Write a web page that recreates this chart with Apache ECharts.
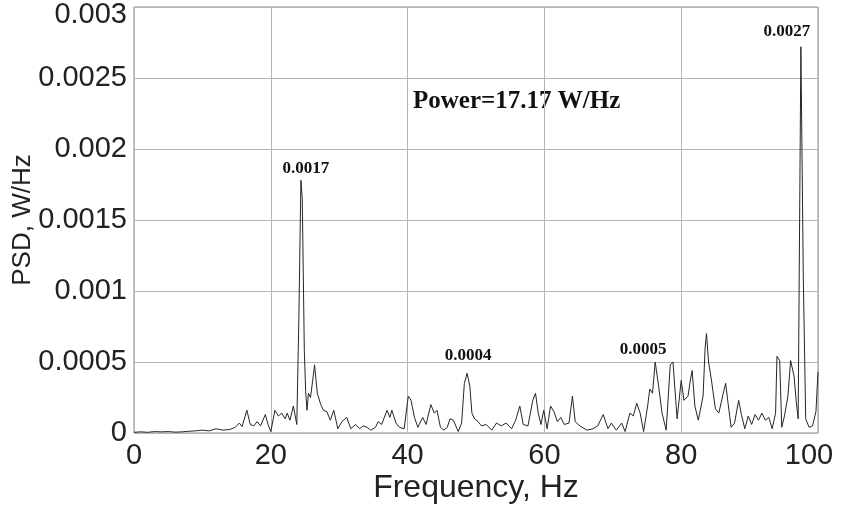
<!DOCTYPE html>
<html>
<head>
<meta charset="utf-8">
<script src="https://cdn.jsdelivr.net/npm/echarts@6/dist/echarts.min.js"></script>
<style>html,body{margin:0;padding:0;background:#fff}#c{width:843px;height:506px}</style>
</head>
<body>
<div id="c"></div>
<script>
var freqHz = [0,1,2,3,4,5,6,7,8,9,10,11,12,13,14,14.8,15.4,15.8,16.5,17,17.5,18,18.5,19.2,19.6,20,20.6,21.1,21.6,22.1,22.4,22.8,23.3,23.8,24.1,24.4,24.6,24.9,25.1,25.3,25.5,25.8,26.1,26.4,26.8,27.3,27.7,28.2,28.7,29.2,29.8,30.4,31.1,31.7,32.4,33,33.5,34.1,34.6,35.3,35.7,36.2,37,37.4,37.7,38.3,38.8,39.5,40.1,40.5,41,41.5,42.2,42.7,43.4,43.9,44.3,44.8,45.3,45.8,46.2,46.7,47.4,47.9,48.3,48.7,49.1,49.4,49.8,50.3,50.8,51.5,52.3,53,53.7,54.4,55.2,55.8,56.4,56.9,57.6,58.3,58.7,59.1,59.5,59.9,60.4,60.9,61.4,61.9,62.4,62.9,63.6,64.1,64.5,65.2,66.2,67.1,67.8,68.6,69.3,69.8,70.5,71.3,71.8,72.5,73,73.5,74,74.5,75.1,75.4,75.8,76.2,76.7,77.2,77.8,78.4,78.8,79.2,79.4,80,80.4,81,81.3,81.6,82,82.5,83.2,83.5,83.7,84,84.4,85,85.5,86.1,86.5,86.8,87.3,87.8,88.4,88.8,89.3,89.8,90.3,90.8,91.3,91.8,92.3,92.8,93.3,93.8,94,94.4,94.7,95.1,95.6,96,96.5,96.8,97.1,97.5,97.85,98.2,98.7,99.2,99.7,100];
var psdWHz = [0.000005,0.000008,0.000005,0.00001,0.000008,0.00001,0.000006,0.000008,0.000012,0.000015,0.00002,0.000015,0.00003,0.00002,0.000025,0.00004,0.00007,0.000045,0.00016,0.00006,0.00005,0.00008,0.00005,0.00013,0.00006,0.00001,0.00016,0.00012,0.00014,0.0001,0.00014,0.00009,0.00019,0.00006,0.0008,0.00178,0.00165,0.00058,0.00029,0.00016,0.00028,0.00025,0.00036,0.00048,0.00028,0.0002,0.00016,0.00015,0.00009,0.00016,0.00003,0.00008,0.00011,0.00003,0.00006,0.00003,0.00005,0.00004,0.00002,0.00004,0.00008,0.00006,0.00016,0.00011,0.00016,0.00007,0.00004,0.00003,0.00026,0.00023,0.00011,0.00004,0.00011,0.00006,0.0002,0.00014,0.00016,0.00004,0.00002,0.00004,0.0001,0.00009,0.00001,0.00007,0.00035,0.00042,0.00033,0.00014,0.0001,0.00008,0.00005,0.00006,0.00002,0.00007,0.00005,0.00007,0.00003,0.00009,0.00019,0.00006,0.00005,0.00023,0.00028,0.00014,0.00006,0.00016,0.00003,0.00019,0.00015,0.00008,0.00011,0.00006,0.00007,0.00026,0.00008,0.00005,0.00002,0.00003,0.00005,0.00013,0.00003,0.00007,0.00002,0.00007,0.00001,0.00014,0.00012,0.00021,0.00014,0.00001,0.00019,0.00031,0.00028,0.0005,0.00033,0.00014,0.00002,0.00048,0.0005,0.00023,0.0001,0.00037,0.00023,0.00026,0.00036,0.00044,0.00019,0.00009,0.00026,0.0006,0.0007,0.0005,0.00038,0.00017,0.00014,0.00027,0.00035,0.00023,0.00004,0.00007,0.00023,0.00013,0.00003,0.00012,0.00006,0.00013,0.00009,0.00014,0.00009,0.00011,0.00003,0.00014,0.00054,0.00051,0.00004,0.00012,0.00026,0.00051,0.0004,0.00023,0.0001,0.00272,0.0011,0.0001,0.00004,0.00005,0.00015,0.00043];
var peakFreq = [24.4, 48.7, 76.2, 97.5];
var peakVal = [0.00178, 0.00042, 0.0005, 0.00272];
var peakText = ['0.0017', '0.0004', '0.0005', '0.0027'];
var peakOffset = [[5,-12],[1,-18],[-12,-12],[-14,-15]];
var xTicks = [0, 20, 40, 60, 80, 100];
var yTicks = [0, 0.0005, 0.001, 0.0015, 0.002, 0.0025, 0.003];
var powerText = 'Power=17.17 W/Hz';

var pts = freqHz.map(function(f, i){ return [f, psdWHz[i]]; });
var mp = peakFreq.map(function(f, i){
  return {coord:[f, peakVal[i]], value: peakText[i],
    label:{show:true, position:'inside', offset: peakOffset[i], formatter: peakText[i]}};
});
var FS = 29;
var chart = echarts.init(document.getElementById('c'), null, {renderer:'canvas'});
chart.setOption({
  animation:false,
  backgroundColor:'#fff',
  grid:{left:134, right:25, top:7, bottom:73, show:true, borderColor:'#8a8a8a', borderWidth:1, outerBoundsMode:'none', containLabel:false},
  xAxis:{type:'value', min:xTicks[0], max:xTicks[xTicks.length-1], interval:20,
    name:'Frequency, Hz', nameLocation:'middle', nameGap:39, nameMoveOverlap:false,
    nameTextStyle:{fontFamily:'Liberation Sans', fontSize:32, color:'#222'},
    axisLine:{show:false}, axisTick:{show:false},
    axisLabel:{fontFamily:'Liberation Sans', fontSize:FS, color:'#222', margin:8,
      formatter:function(v){ return v === xTicks[xTicks.length-1] ? '{r|' + v + '}' : String(v); },
      rich:{r:{fontFamily:'Liberation Sans', fontSize:FS, color:'#222', padding:[0,18,0,0]}}},
    splitLine:{show:true, lineStyle:{color:'#b5b5b5', width:1}}},
  yAxis:{type:'value', min:yTicks[0], max:yTicks[yTicks.length-1], interval:0.0005,
    name:'PSD, W/Hz', nameLocation:'middle', nameGap:98, nameMoveOverlap:false,
    nameTextStyle:{fontFamily:'Liberation Sans', fontSize:26, color:'#222'},
    axisLine:{show:false}, axisTick:{show:false},
    axisLabel:{fontFamily:'Liberation Sans', fontSize:FS, color:'#222', margin:7,
      formatter:function(v){ return v === yTicks[yTicks.length-1] ? '{t|' + v + '}' : String(v); },
      rich:{t:{fontFamily:'Liberation Sans', fontSize:FS, color:'#222', padding:[16,0,0,0]}}},
    splitLine:{show:true, lineStyle:{color:'#b5b5b5', width:1}}},
  graphic:[{type:'text', left:413, top:89,
    style:{text:powerText, font:'bold 25px "Liberation Serif"', fill:'#111'}}],
  series:[{type:'line', data:pts, symbol:'none', showSymbol:false,
    lineStyle:{color:'#262626', width:1}, z:3,
    markPoint:{symbol:'circle', symbolSize:0, silent:true,
      label:{fontFamily:'Liberation Serif', fontWeight:'bold', fontSize:17, color:'#111'},
      data:mp}}]
});
</script>
</body>
</html>
